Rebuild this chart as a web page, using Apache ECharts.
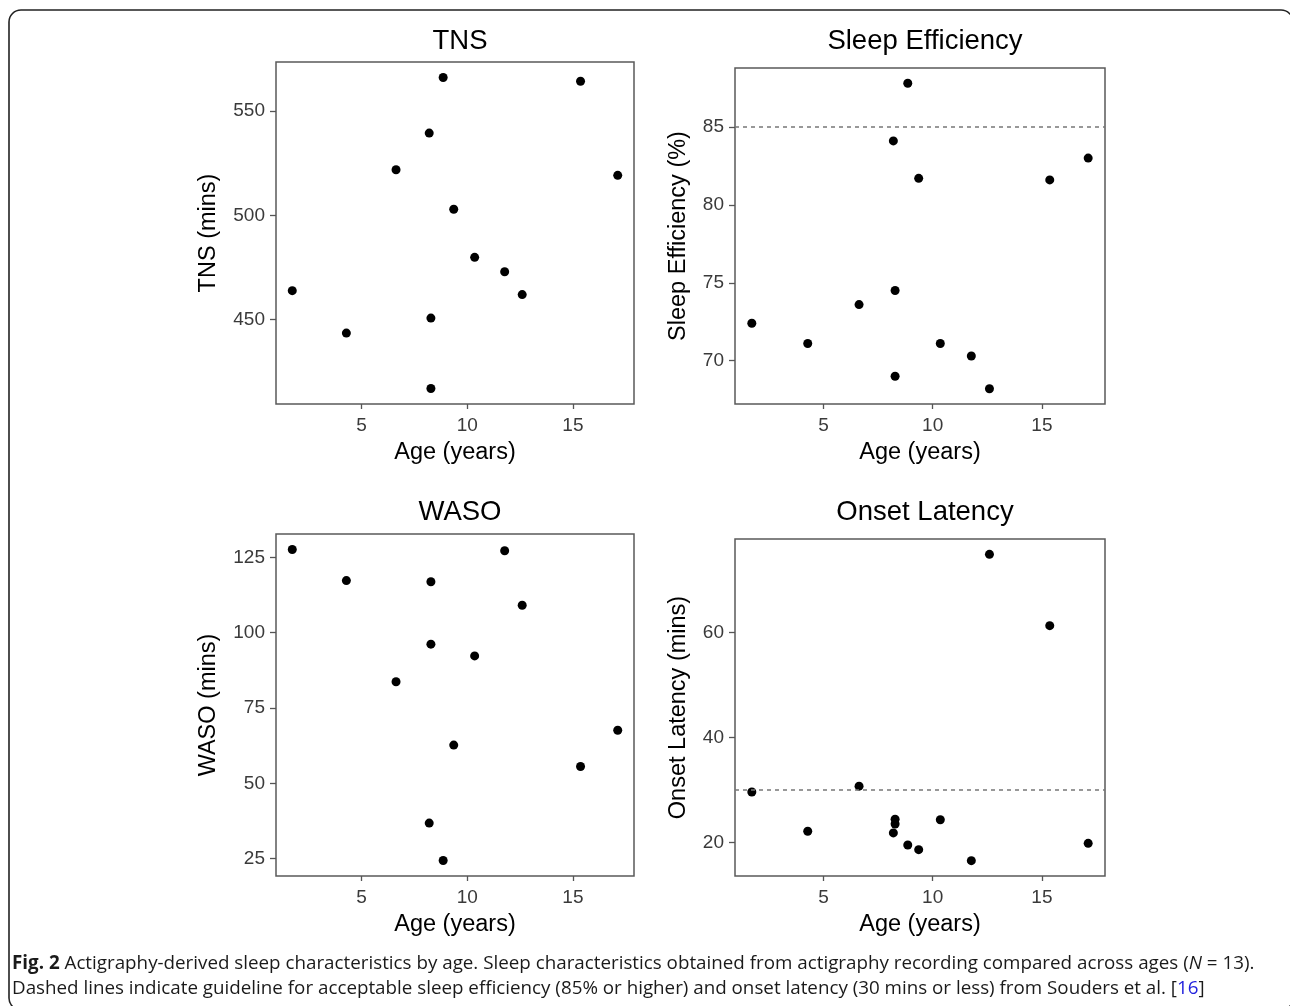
<!DOCTYPE html>
<html>
<head>
<meta charset="utf-8">
<script src="https://cdn.jsdelivr.net/npm/echarts@6/dist/echarts.min.js"></script>
<style>
html,body{margin:0;padding:0;background:#fff;}
#chart{width:1290px;height:1006px;}
</style>
</head>
<body>
<div id="chart"></div>
<script>
// ---- data ----
var age = [1.72, 4.28, 6.63, 8.20, 8.28, 8.28, 8.86, 9.36, 10.35, 11.77, 12.60, 15.36, 17.12];
var tns = [463.8, 443.4, 521.9, 539.5, 450.6, 416.8, 566.2, 502.9, 479.8, 472.9, 461.9, 564.4, 519.2];
var sleepEff = [72.4, 71.1, 73.6, 84.1, 74.5, 69.0, 87.8, 81.7, 71.1, 70.3, 68.2, 81.6, 83.0];
var waso = [127.6, 117.3, 83.7, 36.8, 116.9, 96.2, 24.4, 62.7, 92.3, 127.2, 109.1, 55.6, 67.6];
var onset = [29.6, 22.1, 30.7, 21.8, 24.4, 23.5, 19.5, 18.6, 24.3, 16.5, 74.9, 61.3, 19.8];

var ageTicks = [5, 10, 15];
var tnsTicks = [450, 500, 550];
var seTicks = [70, 75, 80, 85];
var wasoTicks = [25, 50, 75, 100, 125];
var onsetTicks = [20, 40, 60];

var seGuideline = 85;
var onsetGuideline = 30;

var panelTitles = ['TNS', 'Sleep Efficiency', 'WASO', 'Onset Latency'];
var yNames = ['TNS (mins)', 'Sleep Efficiency (%)', 'WASO (mins)', 'Onset Latency (mins)'];
var xName = 'Age (years)';

// ---- helpers ----
function expand(arr) {
  var mn = Math.min.apply(null, arr), mx = Math.max.apply(null, arr);
  var d = (mx - mn) * 0.05;
  return {min: mn - d, max: mx + d};
}
function pairs(ys) { return age.map(function (a, i) { return [a, ys[i]]; }); }

var FONT = '"Liberation Sans", Arial, sans-serif';
var CAPFONT = '"Open Sans", sans-serif';
var grids = [
  {left: 276, top: 62, width: 358, height: 342},
  {left: 735, top: 68, width: 370, height: 336},
  {left: 276, top: 534, width: 358, height: 342},
  {left: 735, top: 539, width: 370, height: 337}
];
var yData = [tns, sleepEff, waso, onset];
var yTicks = [tnsTicks, seTicks, wasoTicks, onsetTicks];
var yGaps = [55, 44, 55, 44];
var guides = [null, seGuideline, null, onsetGuideline];
var titleTops = [22, 22, 493, 493];

var xr = expand(age);

var option = {
  backgroundColor: '#fff',
  animation: false,
  title: grids.map(function (g, i) {
    return {
      text: panelTitles[i], left: g.left + g.width / 2, top: titleTops[i], textAlign: 'center',
      textStyle: {fontFamily: FONT, fontSize: 27.5, fontWeight: 'normal', color: '#000'}
    };
  }),
  grid: grids.map(function (g) {
    return {left: g.left, top: g.top, width: g.width, height: g.height, show: true,
      borderColor: '#5a5a5a', borderWidth: 1.5, backgroundColor: '#fff', containLabel: false};
  }),
  xAxis: grids.map(function (g, i) {
    return {
      type: 'value', gridIndex: i, min: xr.min, max: xr.max,
      name: xName, nameLocation: 'middle', nameGap: 37,
      nameTextStyle: {fontFamily: FONT, fontSize: 23.5, color: '#000'},
      axisLine: {show: false},
      splitLine: {show: false},
      axisTick: {show: true, customValues: ageTicks, length: 5, lineStyle: {color: '#555', width: 1.3}},
      axisLabel: {customValues: ageTicks, margin: 12, fontFamily: FONT, fontSize: 19, color: '#3a3a3a'}
    };
  }),
  yAxis: grids.map(function (g, i) {
    var r = expand(yData[i]);
    return {
      type: 'value', gridIndex: i, min: r.min, max: r.max,
      name: yNames[i], nameLocation: 'middle', nameGap: yGaps[i],
      nameTextStyle: {fontFamily: FONT, fontSize: 23.5, color: '#000'},
      axisLine: {show: false},
      splitLine: {show: false},
      axisTick: {show: true, customValues: yTicks[i], length: 6, lineStyle: {color: '#555', width: 1.3}},
      axisLabel: {customValues: yTicks[i], margin: 11, fontFamily: FONT, fontSize: 19, color: '#3a3a3a'}
    };
  }),
  series: grids.map(function (g, i) {
    var s = {
      type: 'scatter', xAxisIndex: i, yAxisIndex: i, data: pairs(yData[i]),
      symbol: 'circle', symbolSize: 9, itemStyle: {color: '#000', opacity: 1}, z: 3
    };
    if (guides[i] !== null) {
      s.markLine = {
        silent: true, symbol: 'none', label: {show: false},
        lineStyle: {type: [4, 4], color: '#777', width: 1.5, opacity: 1},
        data: [{yAxis: guides[i]}]
      };
    }
    return s;
  }),
  graphic: [
    {type: 'rect', shape: {x: 9, y: 10, width: 1284, height: 1000, r: 12}, silent: true,
      style: {fill: 'none', stroke: '#222', lineWidth: 1.6}, z: -1},
    {type: 'text', x: 12, y: 964, silent: true,
      style: {
        text: '{b|Fig. 2} Actigraphy-derived sleep characteristics by age. Sleep characteristics obtained from actigraphy recording compared across ages ({i|N} = 13).',
        font: '18.8px ' + CAPFONT, fill: '#1a1a1a', verticalAlign: 'middle',
        rich: {b: {fontWeight: 'bold', fontFamily: CAPFONT, fontSize: 18.8, fill: '#1a1a1a'},
               i: {fontStyle: 'italic', fontFamily: CAPFONT, fontSize: 18.8, fill: '#1a1a1a'}}
      }},
    {type: 'text', x: 12, y: 989, silent: true,
      style: {
        text: 'Dashed lines indicate guideline for acceptable sleep efficiency (85% or higher) and onset latency (30 mins or less) from Souders et al. [{l|16}]',
        font: '18.8px ' + CAPFONT, fill: '#1a1a1a', verticalAlign: 'middle',
        rich: {l: {fontFamily: CAPFONT, fontSize: 18.8, fill: '#2222dd'}}
      }}
  ]
};

var chart = echarts.init(document.getElementById('chart'));
chart.setOption(option);
</script>
</body>
</html>
